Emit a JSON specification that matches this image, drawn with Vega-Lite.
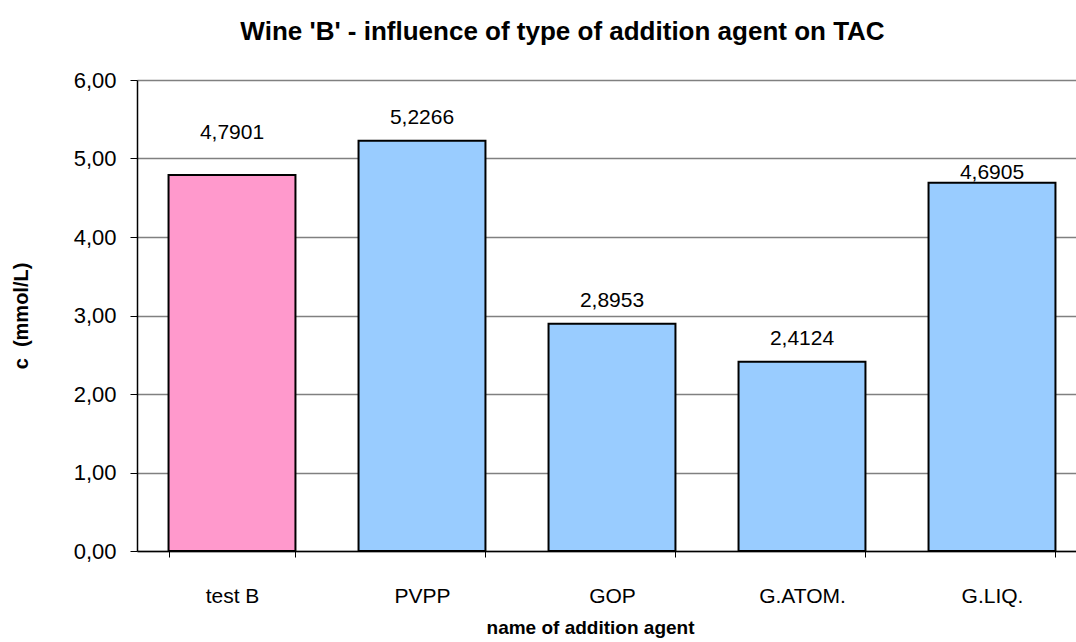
{
  "$schema": "https://vega.github.io/schema/vega-lite/v6.json",
  "width": 939,
  "height": 471,
  "autosize": {"type": "none"},
  "padding": {"left": 137, "top": 80, "right": 0, "bottom": 91},
  "background": "white",
  "config": {
    "locale": {"number": {"decimal": ",", "thousands": ".", "grouping": [3], "currency": ["", " €"]}},
    "font": "Liberation Sans",
    "view": {"stroke": null},
    "axis": {"labelFont": "Liberation Sans", "titleFont": "Liberation Sans", "labelColor": "black", "titleColor": "black"}
  },
  "title": {
    "text": "Wine 'B' - influence of type of addition agent on TAC",
    "font": "Liberation Sans",
    "fontSize": 26,
    "fontWeight": "bold",
    "color": "black",
    "frame": "group",
    "anchor": "middle",
    "baseline": "alphabetic",
    "offset": 3,
    "dx": -44
  },
  "data": {
    "values": [
      {"agent": "test B", "c": 4.7901, "group": "control"},
      {"agent": "PVPP", "c": 5.2266, "group": "agent"},
      {"agent": "GOP", "c": 2.8953, "group": "agent"},
      {"agent": "G.ATOM.", "c": 2.4124, "group": "agent"},
      {"agent": "G.LIQ.", "c": 4.6905, "group": "agent"}
    ]
  },
  "encoding": {
    "x": {
      "field": "agent",
      "type": "nominal",
      "sort": null,
      "scale": {"range": [0, 950], "paddingInner": 0.332, "paddingOuter": 0.166},
      "axis": {
        "title": "name of addition agent",
        "titleFontSize": 19,
        "titleFontWeight": "bold",
        "titlePadding": 12,
        "titleX": 453,
        "labelAngle": 0,
        "labelFontSize": 21,
        "labelPadding": 28,
        "tickBand": "extent",
        "tickSize": 6,
        "tickColor": "black",
        "domainColor": "black",
        "domainWidth": 1.5,
        "grid": false
      }
    },
    "y": {
      "field": "c",
      "type": "quantitative",
      "scale": {"domain": [0, 6], "nice": false},
      "axis": {
        "title": "c\u00a0\u00a0(mmol/L)",
        "titleFontSize": 20,
        "titleFontWeight": "bold",
        "titlePadding": 42,
        "values": [0, 1, 2, 3, 4, 5, 6],
        "format": ".2f",
        "labelFontSize": 22,
        "labelPadding": 14,
        "tickSize": 7,
        "tickColor": "black",
        "domainColor": "black",
        "domainWidth": 1.5,
        "grid": true,
        "gridColor": "#808080",
        "gridWidth": 1.5
      }
    }
  },
  "layer": [
    {
      "mark": {"type": "bar", "stroke": "black", "strokeWidth": 2},
      "encoding": {
        "color": {
          "field": "group",
          "type": "nominal",
          "scale": {"domain": ["control", "agent"], "range": ["#FF99CC", "#99CCFF"]},
          "legend": null
        }
      }
    },
    {
      "transform": [{"filter": "datum.agent !== 'test B' && datum.agent !== 'G.LIQ.'"}],
      "mark": {"type": "text", "fontSize": 21, "color": "black", "baseline": "middle", "dy": -23},
      "encoding": {"text": {"field": "c", "type": "quantitative", "format": ".4f"}}
    },
    {
      "transform": [{"filter": "datum.agent === 'test B'"}],
      "mark": {"type": "text", "fontSize": 21, "color": "black", "baseline": "middle", "dy": -42},
      "encoding": {"text": {"field": "c", "type": "quantitative", "format": ".4f"}}
    },
    {
      "transform": [{"filter": "datum.agent === 'G.LIQ.'"}],
      "mark": {"type": "text", "fontSize": 21, "color": "black", "baseline": "middle", "dy": -10},
      "encoding": {"text": {"field": "c", "type": "quantitative", "format": ".4f"}}
    }
  ]
}
